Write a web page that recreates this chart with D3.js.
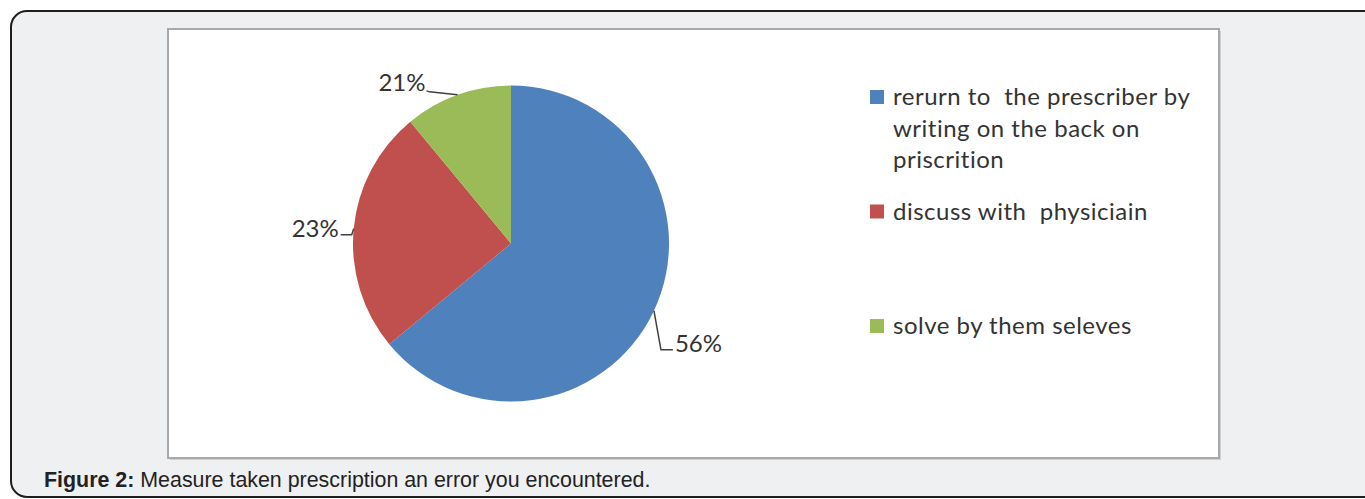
<!DOCTYPE html>
<html>
<head>
<meta charset="utf-8">
<script src="https://cdn.jsdelivr.net/npm/d3@7"></script>
<style>
  html, body { margin: 0; padding: 0; background: #ffffff; }
  svg { display: block; }
  text { white-space: pre; }
</style>
</head>
<body>
<svg width="1365" height="499"></svg>
<script>
// slice sizes as drawn (share of the circle), labels as printed
const categories = [
  ["rerurn to  the prescriber by", "writing on the back on", "priscrition"],
  ["discuss with  physiciain"],
  ["solve by them seleves"]
];
const sliceValues = [64, 25, 11];
const sliceLabels = ["56%", "23%", "21%"];
const sliceColors = ["#4f81bd", "#c0504d", "#9bbb59"];
const caption = "Measure taken prescription an error you encountered.";

const svg = d3.select("svg");

// outer panel
svg.append("rect")
  .attr("x", 11).attr("y", 11)
  .attr("width", 1420).attr("height", 486)
  .attr("rx", 16)
  .attr("fill", "#eff0f2")
  .attr("stroke", "#1e1e1e")
  .attr("stroke-width", 2);

// chart frame with a little shadow
svg.append("rect")
  .attr("x", 170).attr("y", 31)
  .attr("width", 1051).attr("height", 429)
  .attr("fill", "#d0d0d0");
svg.append("rect")
  .attr("x", 168).attr("y", 29)
  .attr("width", 1051).attr("height", 429)
  .attr("fill", "#ffffff")
  .attr("stroke", "#a9a9a9")
  .attr("stroke-width", 2);

// Pie
const cx = 511, cy = 243.5, radius = 158;
const pie = d3.pie().sort(null).value(d => d);
const arcs = pie(sliceValues);
const arc = d3.arc().innerRadius(0).outerRadius(radius);

const g = svg.append("g").attr("transform", `translate(${cx},${cy})`);

g.selectAll("path.slice")
  .data(arcs)
  .join("path")
  .classed("slice", true)
  .attr("d", arc)
  .attr("fill", (d, i) => sliceColors[i]);

// leader lines: start on the rim at the slice mid angle
const leaderShape = [
  { elbow: [7, 39], end: [19, 39], text: [21, 41], anchor: "start" },
  { elbow: [-2, 6], end: [-13, 6], text: [-15, 8], anchor: "end" },
  { elbow: [-28, -3], end: [-31, -4], text: [-32, -4], anchor: "end" }
];

function rimPoint(d) {
  const a = (d.startAngle + d.endAngle) / 2;
  return [radius * Math.sin(a), -radius * Math.cos(a)];
}

g.selectAll("path.leader")
  .data(arcs)
  .join("path")
  .classed("leader", true)
  .attr("fill", "none")
  .attr("stroke", "#404040")
  .attr("stroke-width", 1.5)
  .attr("d", (d, i) => {
    const p = rimPoint(d), s = leaderShape[i];
    return d3.line()([p, [p[0] + s.elbow[0], p[1] + s.elbow[1]], [p[0] + s.end[0], p[1] + s.end[1]]]);
  });

g.selectAll("text.pct")
  .data(arcs)
  .join("text")
  .classed("pct", true)
  .attr("x", (d, i) => rimPoint(d)[0] + leaderShape[i].text[0])
  .attr("y", (d, i) => rimPoint(d)[1] + leaderShape[i].text[1])
  .attr("text-anchor", (d, i) => leaderShape[i].anchor)
  .attr("font-family", "Lato, 'Open Sans', sans-serif")
  .attr("font-size", 24)
  .attr("fill", "#333")
  .text((d, i) => sliceLabels[i]);

// Legend
const legendY = d3.scalePoint()
  .domain(d3.range(categories.length))
  .range([97, 326]);

const legend = svg.append("g").selectAll("g.item")
  .data(categories)
  .join("g")
  .classed("item", true)
  .attr("transform", (d, i) => `translate(870,${legendY(i)})`);

legend.append("rect")
  .attr("x", 0).attr("y", -7)
  .attr("width", 14).attr("height", 14)
  .attr("fill", (d, i) => sliceColors[i]);

legend.append("text")
  .attr("x", 23)
  .attr("y", 8)
  .attr("font-family", "Lato, 'Open Sans', sans-serif")
  .attr("font-size", 24)
  .attr("letter-spacing", 0.5)
  .attr("fill", "#333")
  .selectAll("tspan")
  .data(d => d)
  .join("tspan")
  .attr("x", 23)
  .attr("dy", (d, j) => j === 0 ? 0 : 31.5)
  .text(d => d);

// caption
const cap = svg.append("text")
  .attr("x", 44).attr("y", 487)
  .attr("font-family", "'Liberation Sans', Arial, sans-serif")
  .attr("font-size", 21.4)
  .attr("fill", "#222");
cap.append("tspan").attr("font-weight", "bold").text("Figure 2:");
cap.append("tspan").text(" " + caption);
</script>
</body>
</html>
